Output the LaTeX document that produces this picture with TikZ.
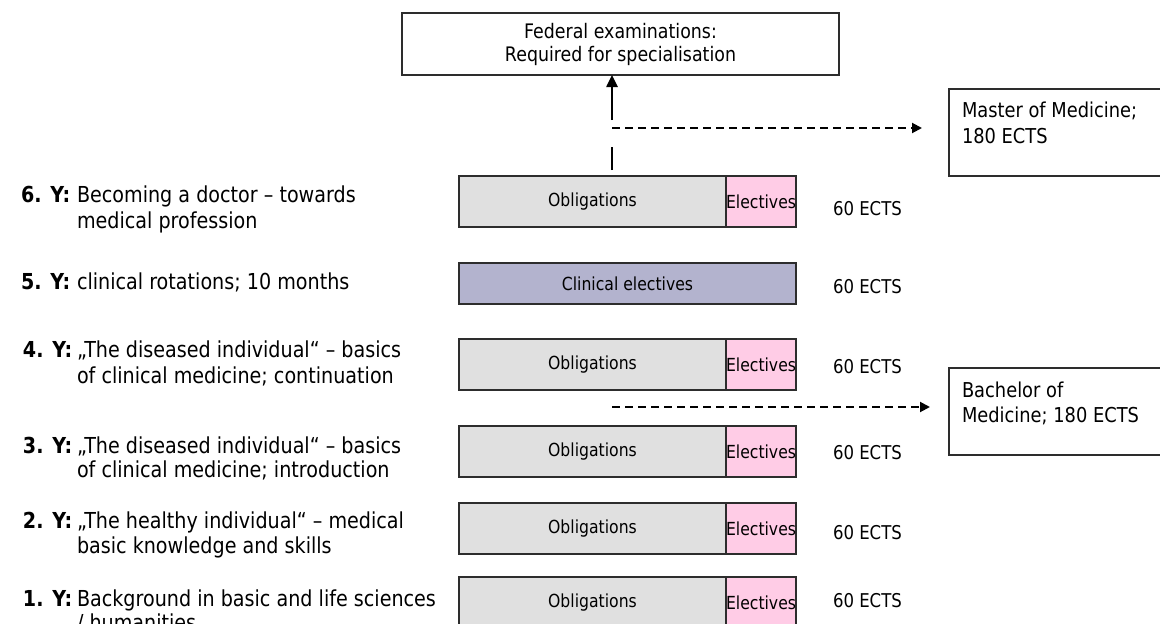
\documentclass[tikz,border=0pt]{standalone}
\usepackage{fontspec}
\setmainfont[FakeStretch=0.87]{DejaVu Sans}
\usetikzlibrary{arrows.meta}
\definecolor{oblig}{RGB}{224,224,224}
\definecolor{elect}{RGB}{255,204,230}
\definecolor{clin}{RGB}{179,179,206}
\definecolor{edge}{RGB}{45,45,45}
\begin{document}
\begin{tikzpicture}[x=1pt,y=1pt,
  every node/.style={inner sep=0pt, outer sep=0pt},
  oblbox/.style={draw=edge, line width=1.4pt, fill=oblig, anchor=north west,
    minimum width=267pt, minimum height=51pt, font=\fontsize{18}{21}\selectfont},
  elbox/.style={draw=edge, line width=1.4pt, fill=elect, anchor=north west,
    minimum width=70pt, minimum height=51pt, font=\fontsize{18}{21}\selectfont},
  clinbox/.style={draw=edge, line width=1.4pt, fill=clin, anchor=north west,
    minimum width=337pt, minimum height=41pt, font=\fontsize{18}{21}\selectfont},
  outbox/.style={draw=edge, line width=1.4pt, fill=white, anchor=north west},
  lab/.style={anchor=base west, font=\fontsize{22}{26}\selectfont},
  ects/.style={anchor=base west, font=\fontsize{19}{22}\selectfont},
  outtxt/.style={anchor=base west, font=\fontsize{20.5}{24}\selectfont},
  dasharrow/.style={line width=2pt, dash pattern=on 8pt off 5pt,
    -{Triangle[length=10pt,width=10pt]}},
  uparrow/.style={line width=2.5pt, -{Triangle[length=12pt,width=11pt]}},
  thinline/.style={line width=1.2pt}
]
\useasboundingbox[fill=white] (0,0) rectangle (1160,-624);

% federal box
\node[outbox, minimum width=437pt, minimum height=62pt, align=center,
  font=\fontsize{20}{23}\selectfont] (fed) at (402,-13)
  {Federal examinations:\\Required for specialisation};

% outcome boxes
\node[outbox, minimum width=225pt, minimum height=87pt] (master) at (949,-89) {};
\node[outtxt] (m1) at (962,-117) {Master of Medicine;};
\node[outtxt] (m2) at (962,-143) {180 ECTS};
\node[outbox, minimum width=225pt, minimum height=87pt] (bach) at (949,-368) {};
\node[outtxt] (b1) at (962,-397) {Bachelor of};
\node[outtxt] (b2) at (962,-422) {Medicine; 180 ECTS};

% year boxes
\node[oblbox] (o6) at (459,-176) {Obligations};
\node[elbox] (e6) at (726,-176) {Electives};
\node[clinbox] (c5) at (459,-263) {Clinical electives};
\node[oblbox] (o4) at (459,-339) {Obligations};
\node[elbox] (e4) at (726,-339) {Electives};
\node[oblbox] (o3) at (459,-426) {Obligations};
\node[elbox] (e3) at (726,-426) {Electives};
\node[oblbox] (o2) at (459,-503) {Obligations};
\node[elbox] (e2) at (726,-503) {Electives};
\node[oblbox] (o1) at (459,-577) {Obligations};
\node[elbox] (e1) at (726,-577) {Electives};

% ECTS
\node[ects] (t6) at (833,-215) {60 ECTS};
\node[ects] (t5) at (833,-293) {60 ECTS};
\node[ects] (t4) at (833,-373) {60 ECTS};
\node[ects] (t3) at (833,-459) {60 ECTS};
\node[ects] (t2) at (833,-539) {60 ECTS};
\node[ects] (t1) at (833,-607) {60 ECTS};

% year labels
\node[lab] (y6n) at (21,-202) {\textbf{6. Y:}};
\node[lab] (y6a) at (77,-202) {Becoming a doctor – towards};
\node[lab] (y6b) at (77,-228) {medical profession};
\node[lab] (y5n) at (21,-289) {\textbf{5. Y:}};
\node[lab] (y5a) at (77,-289) {clinical rotations; 10 months};
\node[lab] (y4n) at (23,-357) {\textbf{4. Y:}};
\node[lab] (y4a) at (77,-357) {„The diseased individual“ – basics};
\node[lab] (y4b) at (77,-383) {of clinical medicine; continuation};
\node[lab] (y3n) at (23,-453) {\textbf{3. Y:}};
\node[lab] (y3a) at (77,-453) {„The diseased individual“ – basics};
\node[lab] (y3b) at (77,-477) {of clinical medicine; introduction};
\node[lab] (y2n) at (23,-528) {\textbf{2. Y:}};
\node[lab] (y2a) at (77,-528) {„The healthy individual“ – medical};
\node[lab] (y2b) at (77,-553) {basic knowledge and skills};
\node[lab] (y1n) at (23,-606) {\textbf{1. Y:}};
\node[lab] (y1a) at (77,-606) {Background in basic and life sciences};
\node[lab] (y1b) at (77,-630) {/ humanities};

% connectors
\coordinate (v0) at (612,-170);
\coordinate (v1) at (612,-147);
\coordinate (v2) at (612,-120);
\draw[thinline] (v0) -- (v1);
\draw[uparrow] (v2) -- (v2 |- fed.south);
\coordinate (d1s) at (612,-128);
\coordinate (d1e) at (922,-128);
\draw[dasharrow] (d1s) -- (d1e);
\coordinate (d2s) at (612,-407);
\coordinate (d2e) at (930,-407);
\draw[dasharrow] (d2s) -- (d2e);
\end{tikzpicture}
\end{document}
